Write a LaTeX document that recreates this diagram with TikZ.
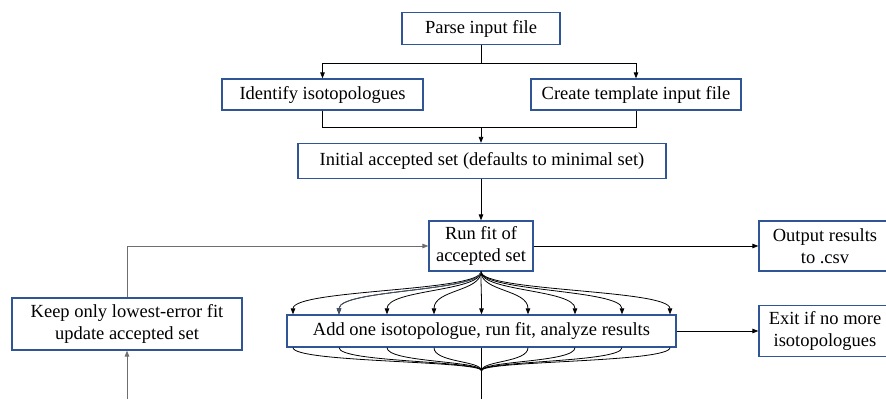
\documentclass[tikz,border=0pt]{standalone}
\usepackage{fontspec}
\setmainfont{Liberation Serif}
\usetikzlibrary{arrows.meta,calc}
\definecolor{boxblue}{RGB}{47,85,151}
\definecolor{linkgray}{RGB}{110,110,110}
\definecolor{slateblue}{RGB}{68,84,106}
\tikzset{
  stepbox/.style={draw=boxblue, line width=1.2pt, fill=white, align=center,
    inner sep=0pt, font=\fontsize{18.5}{21.7}\selectfont},
  link/.style={draw=black, line width=0.8pt},
  arr/.style={link, -{Triangle[length=6pt,width=4.5pt]}},
  grayarr/.style={arr, draw=linkgray},
}
\begin{document}
\begin{tikzpicture}[x=1pt,y=-1pt]
\useasboundingbox (0,0) rectangle (886,399);
\clip (0,0) rectangle (886,399);

% process steps
\node[stepbox, minimum width=158pt, minimum height=32pt] (parse) at (481,28.5) {Parse input file};
\node[stepbox, minimum width=201pt, minimum height=31pt] (ident) at (322.5,94.5) {Identify isotopologues};
\node[stepbox, minimum width=210pt, minimum height=31pt] (create) at (636,94.5) {Create template input file};
\node[stepbox, minimum width=368pt, minimum height=35pt] (init) at (482,161) {Initial accepted set (defaults to minimal set)};
\node[stepbox, minimum width=104pt, minimum height=50pt] (run) at (481,246) {Run fit of\\accepted set};
\node[stepbox, minimum width=132pt, minimum height=50pt] (out) at (825,246) {Output results\\to .csv};
\node[stepbox, minimum width=230pt, minimum height=52pt] (keep) at (127,324) {Keep only lowest-error fit\\update accepted set};
\node[stepbox, minimum width=389pt, minimum height=32pt] (add) at (481.5,331) {Add one isotopologue, run fit, analyze results};
\node[stepbox, minimum width=132pt, minimum height=51pt] (exit) at (825,331) {Exit if no more\\isotopologues};

% parse -> two branches
\coordinate (split) at ($(parse.south)+(0,-18pt)$);
\draw[link] (parse.south) -- (split);
\draw[arr] (split) -| (ident.north);
\draw[arr] (split) -| (create.north);

% two branches -> initial set
\coordinate (join) at ($(parse.south |- init.north)+(0,16pt)$);
\draw[link] (ident.south) |- (join);
\draw[link] (create.south) |- (join);
\draw[arr] (join) -- (join |- init.north);

% main loop
\draw[arr] (run.north |- init.south) -- (run.north);
\draw[arr] (run.east) -- (out.west);
\draw[arr] (add.east) -- (exit.west);
\draw[grayarr] (keep.north) |- (run.west);

% fan out to each candidate
\foreach \dx in {-188.5,-142.5,-94.5,-47.5,0,46.5,93.5,140.5,188.5} {
  \draw[arr] (run.south) .. controls ([yshift=-20pt]run.south)
    and ([xshift=\dx pt, yshift=25pt]add.north) .. ([xshift=\dx pt]add.north);
}
\draw[arr, draw=slateblue] (run.south) .. controls ([yshift=-20pt]run.south)
    and ([xshift=-142.5pt, yshift=25pt]add.north) .. ([xshift=-142.5pt]add.north);

% fan in of the results
\coordinate (merge) at ($(add.south)+(0,-23pt)$);
\coordinate (mergeout) at (481.5,399);
\foreach \dx in {-188.5,-142.5,-94.5,-47.5,46.5,93.5,140.5,188.5} {
  \draw[link] ([xshift=\dx pt]add.south) .. controls ([xshift=\dx pt, yshift=-15pt]add.south)
    and ([yshift=10pt]merge) .. (merge);
}
\draw[link] (add.south) -- (mergeout);

% feedback into the selection step
\coordinate (keepin) at (127,399);
\draw[grayarr] (keepin) -- (keep.south);
\end{tikzpicture}
\end{document}
